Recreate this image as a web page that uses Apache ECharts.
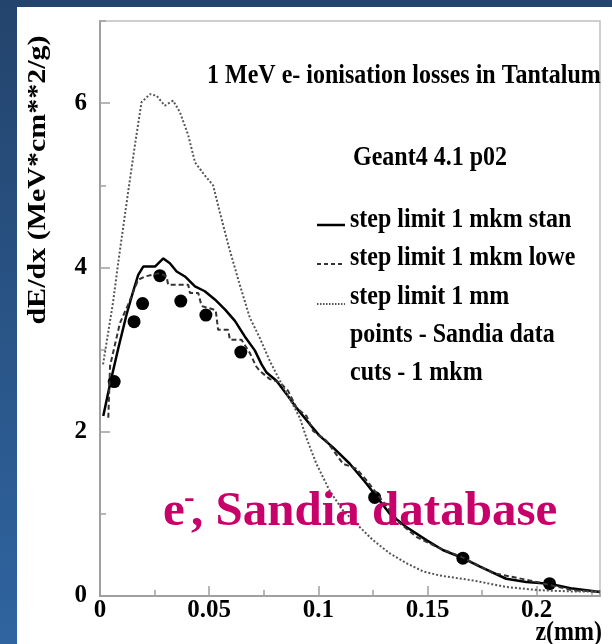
<!DOCTYPE html>
<html><head><meta charset="utf-8">
<script src="https://cdn.jsdelivr.net/npm/echarts@6/dist/echarts.min.js"></script>
<style>
html,body{margin:0;padding:0;}
body{width:612px;height:644px;background:linear-gradient(to bottom,#23446c,#2f64a0);position:relative;overflow:hidden;}
#paper{position:absolute;left:17px;top:7px;right:0;bottom:0;background:#fff;}
#chart{position:absolute;left:0;top:0;width:612px;height:644px;}
</style></head><body><div id="paper"></div><div id="chart"></div>
<script>
// step limit 1 mkm, standard
const zStan = [0.0015,0.0046,0.0084,0.0122,0.0152,0.0175,0.0198,0.0252,0.029,0.032,0.0351,0.0389,0.0435,0.048,0.0526,0.0572,0.0618,0.0663,0.0709,0.074,0.0763,0.0808,0.0854,0.09,0.0961,0.1006,0.1067,0.1144,0.122,0.1327,0.1403,0.1495,0.157,0.1662,0.1738,0.186,0.1952,0.2059,0.2165,0.229];
const vStan = [2.19,2.58,3.02,3.43,3.71,3.91,4.01,4.01,4.11,4.05,3.95,3.89,3.77,3.71,3.61,3.49,3.35,3.16,2.99,2.82,2.72,2.62,2.46,2.29,2.09,1.95,1.81,1.61,1.37,1.0,0.84,0.68,0.56,0.46,0.36,0.21,0.17,0.15,0.09,0.05];
// step limit 1 mkm, lowe
const zLowe = [0.0038,0.0046,0.0091,0.0129,0.0175,0.0206,0.0274,0.0305,0.0312,0.0404,0.0412,0.045,0.0465,0.053,0.0541,0.0587,0.0595,0.0648,0.0686,0.0714,0.0732,0.0778,0.0823,0.0861,0.09,0.0946,0.0976,0.1037,0.1113,0.1174,0.122,0.1372,0.1449,0.151,0.154,0.166,0.18,0.1967,0.2165,0.229];
const vLowe = [2.17,2.8,3.32,3.55,3.85,3.89,3.93,3.89,3.79,3.79,3.69,3.69,3.53,3.48,3.24,3.24,3.12,3.12,2.96,2.8,2.74,2.64,2.6,2.5,2.29,2.19,2.01,1.89,1.61,1.55,1.41,0.89,0.72,0.64,0.6,0.47,0.28,0.19,0.07,0.05];
// step limit 1 mm
const z1mm = [0.0014,0.006,0.0084,0.0129,0.016,0.019,0.0229,0.0259,0.0297,0.0335,0.0366,0.0404,0.0435,0.048,0.0518,0.0549,0.059,0.064,0.0686,0.0732,0.0778,0.0824,0.0869,0.0915,0.0946,0.0991,0.1052,0.1113,0.1174,0.125,0.1327,0.1403,0.1479,0.1555,0.1708,0.186,0.2013,0.2164,0.229];
const v1mm = [2.82,3.58,4.07,4.92,5.49,6.01,6.11,6.09,5.97,6.03,5.89,5.61,5.28,5.12,5.0,4.67,4.25,3.79,3.39,3.14,2.86,2.62,2.4,2.17,1.92,1.61,1.28,1.04,0.88,0.68,0.52,0.4,0.3,0.25,0.19,0.11,0.07,0.055,0.055];
// Sandia data points
const zSandia = [0.0065,0.0156,0.0195,0.0274,0.037,0.0485,0.0645,0.1258,0.1662,0.2059];
const vSandia = [2.61,3.34,3.56,3.9,3.59,3.42,2.97,1.2,0.46,0.15];

const titleText = '1 MeV e- ionisation losses in Tantalum';
const versionText = 'Geant4 4.1 p02';
const legendTexts = ['step limit 1 mkm stan','step limit 1 mkm lowe','step limit 1 mm','points - Sandia data','cuts - 1 mkm'];
const yTitle = 'dE/dx (MeV*cm**2/g)';
const xTitle = 'z(mm)';

const zip = (a,b) => a.map((x,i)=>[x,b[i]]);
const FF = '"Liberation Serif", "Times New Roman", serif';
const SY = 1.12;
function txt(t, x, y, size, opts){
  opts = opts || {};
  return Object.assign({
    type:'text', x:x, y:y, scaleY: opts.noScale?1:SY, z:100,
    style:{text:t, fontFamily:FF, fontWeight:'bold', fontSize:size, fill:opts.fill||'#000',
      align:opts.align||'left', textAlign:opts.align||'left', verticalAlign:'middle', textVerticalAlign:'middle'}
  }, opts.extra||{});
}
const legendY = [220,258,297,335,373];
const graphics = [
  txt(titleText, 207, 76, 24),
  txt(versionText, 353, 158, 24),
  ...legendTexts.map((t,i)=>txt(t, 350, legendY[i], 24)),
  {type:'line', z:100, shape:{x1:317,y1:225,x2:345,y2:225}, style:{stroke:'#000',lineWidth:2.5}},
  {type:'line', z:100, shape:{x1:317,y1:264,x2:345,y2:264}, style:{stroke:'#333',lineWidth:2,lineDash:[4,3]}},
  {type:'line', z:100, shape:{x1:317,y1:304,x2:345,y2:304}, style:{stroke:'#555',lineWidth:2,lineDash:[1.5,1.5]}},
  {type:'text', x:39, y:180, rotation:Math.PI/2, scaleX:1.2, z:100,
    style:{text:yTitle, fontFamily:FF, fontWeight:'bold', fontSize:25, fill:'#000', align:'center', textAlign:'center', verticalAlign:'middle', textVerticalAlign:'middle'}},
  txt(xTitle, 602, 633, 24, {align:'right'}),
  txt('e', 163, 512, 49, {noScale:true, fill:'#c8006a'}),
  txt('-', 184, 499, 32, {noScale:true, fill:'#c8006a'}),
  txt(', Sandia database', 191, 512, 49, {noScale:true, fill:'#c8006a'})
];

const axisGray = '#a0a0a0';
const labelStyle = {fontFamily:FF, fontWeight:'bold', fontSize:25, color:'#000'};
const chart = echarts.init(document.getElementById('chart'), null, {renderer:'canvas'});
chart.setOption({
  animation:false,
  backgroundColor:'transparent',
  grid:{left:100, top:21, right:12, bottom:48, show:true, borderColor:'#c0c0c0', borderWidth:1.5, backgroundColor:'transparent', containLabel:false},
  xAxis:[
    {type:'value', position:'bottom', min:0, max:0.229, interval:0.05,
      axisLine:{show:true, lineStyle:{color:axisGray, width:2}},
      axisTick:{show:true, inside:true, length:10, lineStyle:{color:axisGray, width:1.5}},
      axisLabel:{show:true, margin:2, showMaxLabel:false, ...labelStyle},
      splitLine:{show:false}},
    {type:'value', position:'bottom', min:0, max:0.229, interval:0.025,
      axisLine:{show:false}, axisLabel:{show:false}, splitLine:{show:false},
      axisTick:{show:true, inside:true, length:6, lineStyle:{color:axisGray, width:1.5}}}
  ],
  yAxis:[
    {type:'value', position:'left', min:0, max:7, interval:2,
      axisLine:{show:true, lineStyle:{color:axisGray, width:2}},
      axisTick:{show:true, inside:true, length:10, lineStyle:{color:axisGray, width:1.5}},
      axisLabel:{show:true, margin:13, showMaxLabel:false, ...labelStyle},
      splitLine:{show:false}},
    {type:'value', position:'left', min:0, max:7, interval:1,
      axisLine:{show:false}, axisLabel:{show:false}, splitLine:{show:false},
      axisTick:{show:true, inside:true, length:6, lineStyle:{color:axisGray, width:1.5}}}
  ],
  series:[
    {type:'line', xAxisIndex:0, yAxisIndex:0, data:zip(zStan,vStan), symbol:'none', silent:true,
      lineStyle:{color:'#000', width:2.5}},
    {type:'line', xAxisIndex:0, yAxisIndex:0, data:zip(zLowe,vLowe), symbol:'none', silent:true,
      lineStyle:{color:'#333', width:2, type:[5,3]}},
    {type:'line', xAxisIndex:0, yAxisIndex:0, data:zip(z1mm,v1mm), symbol:'none', silent:true,
      lineStyle:{color:'#555', width:2, type:[2,2]}},
    {type:'scatter', xAxisIndex:0, yAxisIndex:0, data:zip(zSandia,vSandia), symbol:'circle', symbolSize:13, silent:true,
      itemStyle:{color:'#000', opacity:1}}
  ],
  graphic:{elements:graphics}
});
</script></body></html>
